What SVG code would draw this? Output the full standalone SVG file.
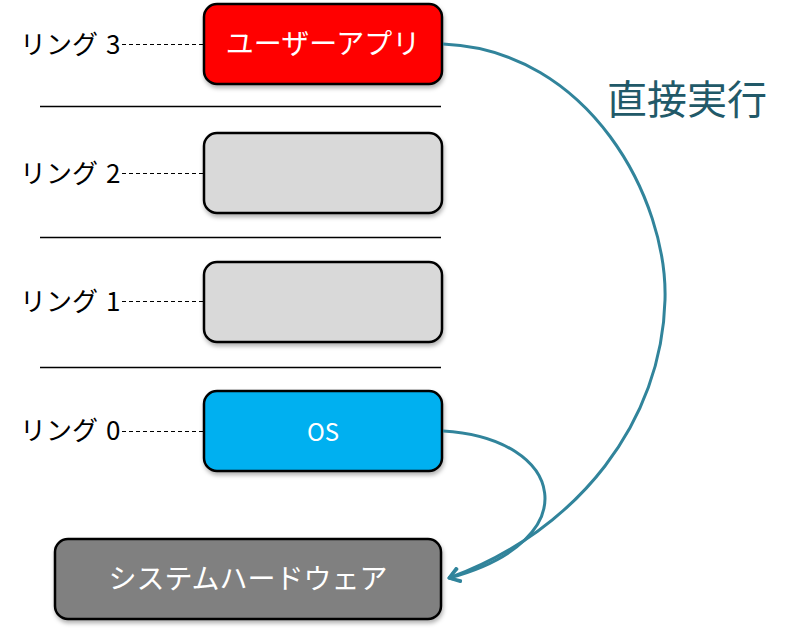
<svg xmlns="http://www.w3.org/2000/svg" width="800" height="632" viewBox="0 0 800 632">
<defs>
<filter id="sh" x="-10%" y="-10%" width="120%" height="130%"><feDropShadow dx="1" dy="3" stdDeviation="2" flood-color="#000" flood-opacity="0.3"/></filter>
<marker id="ah" markerWidth="16" markerHeight="16" refX="13" refY="8" orient="auto" markerUnits="userSpaceOnUse"><path d="M3,1.5 L13,8 L3,14.5" fill="none" stroke="#31849B" stroke-width="3" stroke-linecap="round" stroke-linejoin="round"/></marker>
</defs>
<style>
.box{stroke:#000;stroke-width:2.5;filter:url(#sh)}
.lbl{font-family:"Noto Sans CJK JP","Noto Sans",sans-serif;font-size:26px;fill:#000}
.bt{font-family:"Noto Sans CJK JP","Noto Sans",sans-serif;font-size:28px;fill:#fff;text-anchor:middle}
.sep{stroke:#000;stroke-width:1.5}
.dash{stroke:#000;stroke-width:1;stroke-dasharray:4,3}
.arc{fill:none;stroke:#31849B;stroke-width:3}
</style>
<g id="separators">
<line class="sep" x1="40" y1="106.5" x2="441" y2="106.5"/>
<line class="sep" x1="40" y1="237.5" x2="441" y2="237.5"/>
<line class="sep" x1="40" y1="367.5" x2="441" y2="367.5"/>
</g>
<g id="ring3">
<text class="lbl" x="20" y="54">リング<tspan x="106">3</tspan></text>
<line class="dash" x1="122" y1="44.5" x2="204" y2="44.5"/>
</g>
<g id="ring2">
<text class="lbl" x="20" y="183">リング<tspan x="106">2</tspan></text>
<line class="dash" x1="122" y1="173.5" x2="204" y2="173.5"/>
</g>
<g id="ring1">
<text class="lbl" x="20" y="311">リング<tspan x="106">1</tspan></text>
<line class="dash" x1="122" y1="301.5" x2="204" y2="301.5"/>
</g>
<g id="ring0">
<text class="lbl" x="20" y="440">リング<tspan x="106">0</tspan></text>
<line class="dash" x1="122" y1="431.5" x2="204" y2="431.5"/>
</g>
<g id="userapp">
<rect class="box" x="204" y="4" width="238" height="80" rx="13" fill="#FF0000"/>
<text class="bt" x="323" y="54">ユーザーアプリ</text>
</g>
<g id="box2">
<rect class="box" x="204" y="133" width="238" height="80" rx="13" fill="#D9D9D9"/>
</g>
<g id="box1">
<rect class="box" x="204" y="262" width="238" height="80" rx="13" fill="#D9D9D9"/>
</g>
<g id="os">
<rect class="box" x="204" y="391" width="238" height="80" rx="13" fill="#00B0F0"/>
<text class="bt" x="323" y="441" style="font-size:24px">OS</text>
</g>
<g id="hardware">
<rect class="box" x="55" y="539" width="386" height="80" rx="13" fill="#808080"/>
<text class="bt" x="248" y="589">システムハードウェア</text>
</g>
<g id="label">
<text x="607" y="114" font-family="'Noto Sans CJK JP','Noto Sans',sans-serif" font-size="40" fill="#215968">直接実行</text>
</g>
<g id="connectors">
<path class="arc" d="M443,44 C590,50 668,200 665,300 C662,420 580,530 449,578" marker-end="url(#ah)"/>
<path class="arc" d="M443,431 C565,438 590,540 449,578" marker-end="url(#ah)"/>
</g>
</svg>
